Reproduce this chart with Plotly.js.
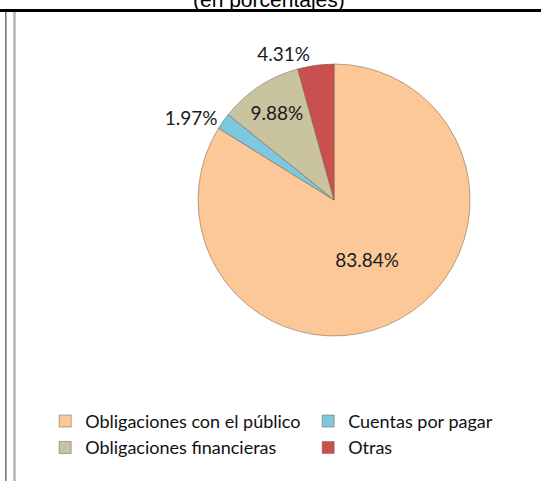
<!DOCTYPE html>
<html>
<head>
<meta charset="utf-8">
<script src="https://cdn.plot.ly/plotly-3.0.1.min.js"></script>
<style>
  html, body { margin: 0; padding: 0; background: #fff; }
  #grafico { width: 541px; height: 481px; }
</style>
</head>
<body>
<div id="grafico"></div>
<script>
// Composición de pasivos (en porcentajes)
const categorias = ['Obligaciones con el público', 'Cuentas por pagar', 'Obligaciones financieras', 'Otras'];
const porcentajes = [83.84, 1.97, 9.88, 4.31];
const colores = ['#FCC898', '#7DC8DF', '#C9C3A0', '#C9504F'];
const posTexto = ['inside', 'outside', 'inside', 'outside'];

const trace = {
  type: 'pie',
  labels: categorias,
  values: porcentajes,
  sort: false,
  direction: 'clockwise',
  rotation: 0,
  texttemplate: '%{value:.2f}%',
  textposition: posTexto,
  insidetextorientation: 'horizontal',
  textfont: { family: 'Lato, sans-serif', size: 19, color: '#1a1a1a' },
  marker: {
    colors: colores,
    line: { color: 'rgba(120,100,80,0.55)', width: 1 }
  },
  domain: { x: [0.366, 0.869], y: [0.3015, 0.867] },
  hoverinfo: 'label+percent'
};

const layout = {
  width: 541,
  height: 481,
  margin: { l: 0, r: 0, t: 0, b: 0, autoexpand: false },
  paper_bgcolor: '#ffffff',
  showlegend: true,
  legend: {
    orientation: 'h',
    x: 0.0835,
    xanchor: 'left',
    y: 0.097,
    yanchor: 'middle',
    entrywidth: 218,
    font: { family: 'Lato, sans-serif', size: 18, color: '#111' },
    itemclick: false
  },
  annotations: [{
    text: '(en porcentajes)',
    xref: 'paper', yref: 'paper',
    x: 0.497, y: 1.002,
    xanchor: 'center', yanchor: 'middle',
    showarrow: false,
    font: { family: 'Liberation Sans, Arial, sans-serif', size: 21, color: '#000' }
  }],
  shapes: [
    // línea superior
    { type: 'line', xref: 'paper', yref: 'paper', x0: 0, x1: 1, y0: 1 - 10.5 / 481, y1: 1 - 10.5 / 481,
      line: { color: '#000', width: 3 } },
    // bordes dobles a la izquierda
    { type: 'line', xref: 'paper', yref: 'paper', x0: 5.8 / 541, x1: 5.8 / 541, y0: 0, y1: 1 - 12 / 481,
      line: { color: '#707070', width: 1.5 } },
    { type: 'line', xref: 'paper', yref: 'paper', x0: 14.5 / 541, x1: 14.5 / 541, y0: 0, y1: 1 - 12 / 481,
      line: { color: '#b4b4b4', width: 2.5 } }
  ]
};

Plotly.newPlot('grafico', [trace], layout, { displayModeBar: false, staticPlot: true });
</script>
</body>
</html>
